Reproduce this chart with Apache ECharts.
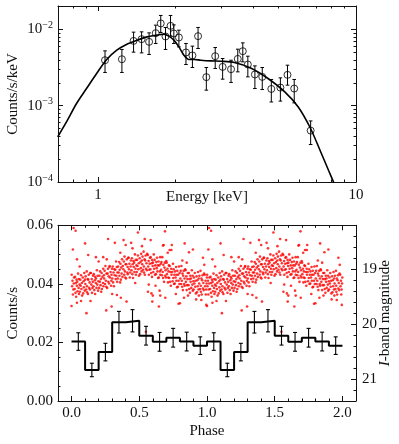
<!DOCTYPE html>
<html>
<head>
<meta charset="utf-8">
<script src="https://cdn.jsdelivr.net/npm/echarts@6/dist/echarts.min.js"></script>
<style>html,body{margin:0;padding:0;background:#fff}#chart{width:399px;height:444px}</style>
</head>
<body>
<div id="chart"></div>
<script>
// X-ray spectrum (top panel)
var spectrumEnergy = [1.065,1.238,1.374,1.476,1.578,1.674,1.751,1.827,1.911,1.968,2.059,2.193,2.323,2.443,2.630,2.847,3.042,3.279,3.482,3.641,3.809,4.057,4.332,4.697,5.093,5.426,5.762,6.672];
var spectrumRate = [0.00395,0.00407,0.00708,0.00746,0.00688,0.00894,0.01199,0.00809,0.01115,0.00886,0.00785,0.00499,0.00456,0.00817,0.00237,0.00446,0.00323,0.00301,0.00411,0.00519,0.00347,0.00257,0.00239,0.00166,0.00173,0.00254,0.00168,0.000472];
var spectrumLo = [0.00273,0.00273,0.00504,0.00493,0.00470,0.00655,0.00913,0.00547,0.00817,0.00655,0.00591,0.00347,0.00317,0.00563,0.00160,0.00308,0.00223,0.00202,0.00278,0.00376,0.00239,0.00168,0.00163,0.00112,0.00115,0.00186,0.00109,0.000310];
var spectrumHi = [0.00524,0.00547,0.00922,0.00930,0.00902,0.01139,0.01526,0.01062,0.01526,0.01149,0.00979,0.00655,0.00604,0.01062,0.00317,0.00580,0.00416,0.00395,0.00551,0.00667,0.00446,0.00333,0.00317,0.00221,0.00232,0.00340,0.00221,0.000632];

var modelEnergy = [0.698,0.755,0.826,0.903,0.988,1.081,1.183,1.294,1.416,1.550,1.695,1.799,1.882,1.969,2.059,2.154,2.253,2.356,2.502,2.738,2.996,3.377,3.924,4.560,5.296,5.973,6.631,7.253,7.824,8.183,8.35];
var modelRate = [0.000390,0.000613,0.001069,0.001681,0.002646,0.004040,0.005351,0.006413,0.007238,0.007996,0.008418,0.008677,0.008166,0.007238,0.005910,0.004600,0.004040,0.004040,0.003954,0.003872,0.003837,0.003689,0.003105,0.002275,0.001518,0.000964,0.000522,0.000261,0.0001424,0.0001,0.0000826];

// folded X-ray light curve, one cycle (bins of 0.1 in phase)
var binCounts = [0.0203,0.0106,0.0167,0.0269,0.0274,0.0223,0.0202,0.0216,0.0203,0.0189];
var binErr = [0.0030,0.0023,0.0030,0.0037,0.0038,0.0032,0.0032,0.0032,0.0032,0.0030];

// folded I-band photometry, one cycle: [phase, magnitude]
var opticalPoints = [
[0.001,19.10],[0.004,19.31],[0.007,19.21],[0.010,19.46],[0.013,19.37],[0.016,19.26],[0.018,19.15],
[0.023,19.36],[0.026,19.14],[0.029,19.43],[0.031,19.25],[0.034,19.50],[0.037,19.19],[0.039,19.30],
[0.042,19.23],[0.044,19.40],[0.048,19.08],[0.052,19.34],[0.054,19.18],[0.055,19.45],[0.059,19.28],
[0.061,19.41],[0.064,19.19],[0.067,19.30],[0.070,19.11],[0.073,19.36],[0.076,19.25],[0.078,19.48],
[0.083,19.15],[0.086,19.44],[0.089,19.22],[0.091,19.33],[0.094,19.07],[0.097,19.39],[0.099,19.19],
[0.102,19.27],[0.104,19.13],[0.108,19.37],[0.112,19.04],[0.114,19.31],[0.115,19.42],[0.119,19.18],
[0.121,19.45],[0.124,19.19],[0.127,19.10],[0.130,19.34],[0.133,19.24],[0.136,19.37],[0.138,19.07],
[0.143,19.07],[0.146,19.28],[0.149,19.18],[0.151,19.43],[0.154,19.34],[0.157,19.23],[0.159,19.12],
[0.162,19.31],[0.164,19.09],[0.168,19.38],[0.172,19.20],[0.174,19.45],[0.175,19.14],[0.179,19.25],
[0.181,19.17],[0.184,19.34],[0.187,19.02],[0.190,19.28],[0.193,19.12],[0.196,19.39],[0.198,19.22],
[0.203,19.34],[0.206,19.12],[0.209,19.23],[0.211,19.04],[0.214,19.29],[0.217,19.18],[0.219,19.41],
[0.222,19.07],[0.224,19.36],[0.228,19.14],[0.232,19.25],[0.234,18.99],[0.235,19.31],[0.239,19.11],
[0.241,19.17],[0.244,19.03],[0.247,19.27],[0.250,18.94],[0.253,19.21],[0.256,19.32],[0.258,19.08],
[0.263,19.34],[0.266,19.08],[0.269,18.99],[0.271,19.23],[0.274,19.13],[0.277,19.26],[0.279,18.96],
[0.282,18.94],[0.284,19.15],[0.288,19.05],[0.292,19.30],[0.294,19.21],[0.295,19.10],[0.299,18.99],
[0.301,19.17],[0.304,18.95],[0.307,19.24],[0.310,19.06],[0.313,19.31],[0.316,19.00],[0.318,19.11],
[0.323,19.01],[0.326,19.18],[0.329,18.86],[0.331,19.12],[0.334,18.96],[0.337,19.23],[0.339,19.06],
[0.342,19.17],[0.344,18.95],[0.348,19.06],[0.352,18.87],[0.354,19.12],[0.355,19.01],[0.359,19.24],
[0.361,18.90],[0.364,19.19],[0.367,18.97],[0.370,19.08],[0.373,18.82],[0.376,19.14],[0.378,18.94],
[0.383,19.00],[0.386,18.86],[0.389,19.10],[0.391,18.77],[0.394,19.04],[0.397,19.15],[0.399,18.91],
[0.402,19.17],[0.404,18.91],[0.408,18.82],[0.412,19.06],[0.414,18.96],[0.415,19.09],[0.419,18.79],
[0.421,18.79],[0.424,19.00],[0.427,18.90],[0.430,19.15],[0.433,19.06],[0.436,18.95],[0.438,18.84],
[0.443,19.02],[0.446,18.80],[0.449,19.09],[0.451,18.91],[0.454,19.16],[0.457,18.85],[0.459,18.96],
[0.462,18.88],[0.464,19.05],[0.468,18.73],[0.472,18.99],[0.474,18.83],[0.475,19.10],[0.479,18.93],
[0.481,19.05],[0.484,18.83],[0.487,18.94],[0.490,18.75],[0.493,19.00],[0.496,18.89],[0.498,19.12],
[0.503,18.80],[0.506,19.09],[0.509,18.87],[0.511,18.98],[0.514,18.72],[0.517,19.04],[0.519,18.84],
[0.522,18.91],[0.524,18.77],[0.528,19.01],[0.532,18.68],[0.534,18.95],[0.535,19.06],[0.539,18.82],
[0.541,19.10],[0.544,18.84],[0.547,18.75],[0.550,18.99],[0.553,18.89],[0.556,19.02],[0.558,18.72],
[0.563,18.74],[0.566,18.95],[0.569,18.85],[0.571,19.10],[0.574,19.01],[0.577,18.90],[0.579,18.79],
[0.582,19.00],[0.584,18.78],[0.588,19.07],[0.592,18.89],[0.594,19.14],[0.595,18.83],[0.599,18.94],
[0.601,18.88],[0.604,19.05],[0.607,18.73],[0.610,18.99],[0.613,18.83],[0.616,19.10],[0.618,18.93],
[0.623,19.09],[0.626,18.87],[0.629,18.98],[0.631,18.79],[0.634,19.04],[0.637,18.93],[0.639,19.16],
[0.642,18.86],[0.644,19.15],[0.648,18.93],[0.652,19.04],[0.654,18.78],[0.655,19.10],[0.659,18.90],
[0.661,19.01],[0.664,18.87],[0.667,19.11],[0.670,18.78],[0.673,19.05],[0.676,19.16],[0.678,18.92],
[0.683,19.23],[0.686,18.97],[0.689,18.88],[0.691,19.12],[0.694,19.02],[0.697,19.15],[0.699,18.85],
[0.702,18.88],[0.704,19.09],[0.708,18.99],[0.712,19.24],[0.714,19.15],[0.715,19.04],[0.719,18.93],
[0.721,19.16],[0.724,18.94],[0.727,19.23],[0.730,19.05],[0.733,19.30],[0.736,18.99],[0.738,19.10],
[0.743,19.05],[0.746,19.22],[0.749,18.90],[0.751,19.16],[0.754,19.00],[0.757,19.27],[0.759,19.10],
[0.762,19.26],[0.764,19.04],[0.768,19.15],[0.772,18.96],[0.774,19.21],[0.775,19.10],[0.779,19.33],
[0.781,19.03],[0.784,19.32],[0.787,19.10],[0.790,19.21],[0.793,18.95],[0.796,19.27],[0.798,19.07],
[0.803,19.17],[0.806,19.03],[0.809,19.27],[0.811,18.94],[0.814,19.21],[0.817,19.32],[0.819,19.08],
[0.822,19.38],[0.824,19.12],[0.828,19.03],[0.832,19.27],[0.834,19.17],[0.835,19.30],[0.839,19.00],
[0.841,19.02],[0.844,19.23],[0.847,19.13],[0.850,19.38],[0.853,19.29],[0.856,19.18],[0.858,19.07],
[0.863,19.29],[0.866,19.07],[0.869,19.36],[0.871,19.18],[0.874,19.43],[0.877,19.12],[0.879,19.23],
[0.882,19.17],[0.884,19.34],[0.888,19.02],[0.892,19.28],[0.894,19.12],[0.895,19.39],[0.899,19.22],
[0.901,19.37],[0.904,19.15],[0.907,19.26],[0.910,19.07],[0.913,19.32],[0.916,19.21],[0.918,19.44],
[0.923,19.13],[0.926,19.42],[0.929,19.20],[0.931,19.31],[0.934,19.05],[0.937,19.37],[0.939,19.17],
[0.942,19.26],[0.944,19.12],[0.948,19.36],[0.952,19.03],[0.954,19.30],[0.955,19.41],[0.959,19.17],
[0.961,19.46],[0.964,19.20],[0.967,19.11],[0.970,19.35],[0.973,19.25],[0.976,19.38],[0.978,19.08],
[0.983,19.10],[0.986,19.31],[0.989,19.21],[0.991,19.46],[0.994,19.37],[0.997,19.26],[0.999,19.15],
[0.015,18.25],[0.030,18.30],[0.010,18.64],[0.100,18.53],[0.040,18.82],[0.000,19.67],[0.040,19.61],
[0.110,19.80],[0.256,19.75],[0.270,18.45],[0.320,18.52],[0.335,19.47],[0.384,18.47],[0.400,18.56],
[0.440,18.52],[0.490,18.33],[0.540,18.45],[0.549,20.14],[0.590,19.44],[0.596,19.59],[0.645,19.68],
[0.650,19.39],[0.690,18.31],[0.724,18.65],[0.740,18.56],[0.680,18.56],[0.800,19.62],[0.835,18.53],
[0.818,18.84],[0.896,18.64],[0.123,18.74],[0.180,18.78],[0.234,18.78],[0.296,19.68],[0.364,19.52],
[0.406,19.59],[0.584,18.47],[0.675,18.57],[0.737,18.65],[0.867,18.69],[0.970,18.79],[0.564,19.41],
[0.600,19.48],[0.655,19.48],[0.692,19.52],[0.790,19.63],[0.860,19.48],[0.958,19.56],[0.995,19.65],
[0.940,19.48],[0.060,18.95],[0.140,19.58],[0.200,18.86],[0.300,19.45],[0.360,18.70],[0.470,19.25],
[0.520,18.58],[0.620,19.30],[0.710,18.70],[0.770,19.45],[0.850,18.88],[0.920,19.55],[0.980,18.92],
[0.260,18.82],[0.450,18.62],[0.570,19.28],[0.830,19.52],[0.070,19.58]
];

// tick positions
var energyMajor = [1, 10];
var energyMinor = [0.7, 0.8, 0.9, 2, 3, 4, 5, 6, 7, 8, 9];
var rateMajor = [0.0001, 0.001, 0.01];
var rateMinor = [0.0002,0.0003,0.0004,0.0005,0.0006,0.0007,0.0008,0.0009,0.002,0.003,0.004,0.005,0.006,0.007,0.008,0.009,0.02];
var phaseMajor = [0, 0.5, 1, 1.5, 2];
var phaseMinor = [0.1,0.2,0.3,0.4,0.6,0.7,0.8,0.9,1.1,1.2,1.3,1.4,1.6,1.7,1.8,1.9];
var countMajor = [0, 0.02, 0.04, 0.06];
var countMinor = [0.005,0.01,0.015,0.025,0.03,0.035,0.045,0.05,0.055];
var magMajor = [19, 20, 21];
var magMinor = [18.4,18.6,18.8,19.2,19.4,19.6,19.8,20.2,20.4,20.6,20.8,21.2];

var FONT = 'Liberation Serif';
var INK = '#111';
var MAJOR = 5, MINOR = 2.5;

function tickAxis(o) {
    var a = {
        type: o.type, gridIndex: o.grid, position: o.position,
        min: o.min, max: o.max, inverse: !!o.inverse,
        axisLine: {show: !!o.line, onZero: false, lineStyle: {color: INK, width: 1}},
        axisTick: {show: true, inside: true, length: o.len, customValues: o.ticks, lineStyle: {color: INK, width: 1}},
        axisLabel: {show: false},
        splitLine: {show: false}
    };
    if (o.type == 'log') a.logBase = 10;
    if (o.format) {
        a.axisLabel = {
            show: true, customValues: o.ticks, formatter: o.format, margin: o.margin,
            fontFamily: FONT, fontSize: 15, color: INK,
            rich: {
                b: {fontFamily: FONT, fontSize: 15, color: INK, lineHeight: 18},
                s: {fontFamily: FONT, fontSize: 10, color: INK, verticalAlign: 'top', lineHeight: 10}
            }
        };
    }
    if (o.name) {
        a.name = o.name;
        a.nameLocation = 'middle';
        a.nameGap = o.gap;
        a.nameMoveOverlap = false;
        if (o.rotate != null) a.nameRotate = o.rotate;
        a.nameTextStyle = {fontFamily: FONT, fontSize: 15, color: INK,
            rich: {i: {fontFamily: FONT, fontSize: 15, color: INK, fontStyle: 'italic'}}};
    }
    return a;
}

function fmtPow(v) {
    var e = Math.round(Math.log(v) / Math.LN10);
    return '{b|10}{s|\u2212' + (-e) + '}';
}
function fmtEnergy(v) { return String(Math.round(v)); }
function fmtPhase(v) { return v.toFixed(1); }
function fmtCount(v) { return v.toFixed(2); }
function fmtMag(v) { return String(Math.round(v)); }

var xAxes = [
    // top panel: energy
    tickAxis({type: 'log', grid: 0, position: 'bottom', min: 0.7, max: 10, len: MAJOR, ticks: energyMajor, line: true,
        format: fmtEnergy, margin: 6, name: 'Energy [keV]', gap: 8}),
    tickAxis({type: 'log', grid: 0, position: 'bottom', min: 0.7, max: 10, len: MINOR, ticks: energyMinor}),
    tickAxis({type: 'log', grid: 0, position: 'top', min: 0.7, max: 10, len: MAJOR, ticks: energyMajor, line: true}),
    tickAxis({type: 'log', grid: 0, position: 'top', min: 0.7, max: 10, len: MINOR, ticks: energyMinor}),
    // bottom panel: phase
    tickAxis({type: 'value', grid: 1, position: 'bottom', min: -0.1, max: 2.1, len: MAJOR, ticks: phaseMajor, line: true,
        format: fmtPhase, margin: 5, name: 'Phase', gap: 23}),
    tickAxis({type: 'value', grid: 1, position: 'bottom', min: -0.1, max: 2.1, len: MINOR, ticks: phaseMinor}),
    tickAxis({type: 'value', grid: 1, position: 'top', min: -0.1, max: 2.1, len: MAJOR, ticks: phaseMajor, line: true}),
    tickAxis({type: 'value', grid: 1, position: 'top', min: -0.1, max: 2.1, len: MINOR, ticks: phaseMinor})
];

var yAxes = [
    tickAxis({type: 'log', grid: 0, position: 'left', min: 0.0001, max: 0.0203, len: MAJOR, ticks: rateMajor, line: true,
        format: fmtPow, margin: 5, name: 'Counts/s/keV', gap: 37, rotate: 90}),
    tickAxis({type: 'log', grid: 0, position: 'left', min: 0.0001, max: 0.0203, len: MINOR, ticks: rateMinor}),
    tickAxis({type: 'log', grid: 0, position: 'right', min: 0.0001, max: 0.0203, len: MAJOR, ticks: rateMajor, line: true}),
    tickAxis({type: 'log', grid: 0, position: 'right', min: 0.0001, max: 0.0203, len: MINOR, ticks: rateMinor}),
    tickAxis({type: 'value', grid: 1, position: 'left', min: 0, max: 0.06, len: MAJOR, ticks: countMajor, line: true,
        format: fmtCount, margin: 5, name: 'Counts/s', gap: 37, rotate: 90}),
    tickAxis({type: 'value', grid: 1, position: 'left', min: 0, max: 0.06, len: MINOR, ticks: countMinor}),
    tickAxis({type: 'value', grid: 1, position: 'right', min: 18.2, max: 21.4, inverse: true, len: MAJOR, ticks: magMajor, line: true,
        format: fmtMag, margin: 6, name: '{i|I}-band magnitude', gap: 22, rotate: 90}),
    tickAxis({type: 'value', grid: 1, position: 'right', min: 18.2, max: 21.4, inverse: true, len: MINOR, ticks: magMinor})
];

function errorBar(capW, lineW) {
    return function (params, api) {
        var x = api.value(0);
        var lo = api.coord([x, api.value(1)]);
        var hi = api.coord([x, api.value(2)]);
        var st = {stroke: '#000', lineWidth: lineW};
        return {type: 'group', children: [
            {type: 'line', shape: {x1: lo[0], y1: lo[1], x2: hi[0], y2: hi[1]}, style: st},
            {type: 'line', shape: {x1: lo[0] - capW, y1: lo[1], x2: lo[0] + capW, y2: lo[1]}, style: st},
            {type: 'line', shape: {x1: hi[0] - capW, y1: hi[1], x2: hi[0] + capW, y2: hi[1]}, style: st}
        ]};
    };
}

var specPts = [], specBars = [], modelPts = [];
for (var i = 0; i < spectrumEnergy.length; i++) {
    specPts.push([spectrumEnergy[i], spectrumRate[i]]);
    specBars.push([spectrumEnergy[i], spectrumLo[i], spectrumHi[i]]);
}
for (var i = 0; i < modelEnergy.length; i++) modelPts.push([modelEnergy[i], modelRate[i]]);

// two cycles are shown
var histPts = [], histBars = [], optPts = [];
for (var c = 0; c < 2; c++) {
    for (var i = 0; i < binCounts.length; i++) {
        var lo = c + i / 10, hi = c + (i + 1) / 10;
        histPts.push([lo, binCounts[i]], [hi, binCounts[i]]);
        histBars.push([(lo + hi) / 2, binCounts[i] - binErr[i], binCounts[i] + binErr[i]]);
    }
    for (var i = 0; i < opticalPoints.length; i++) optPts.push([opticalPoints[i][0] + c, opticalPoints[i][1]]);
}

var chart = echarts.init(document.getElementById('chart'));
chart.setOption({
    animation: false,
    backgroundColor: '#fff',
    grid: [
        {left: 58, right: 43, top: 6, height: 176, containLabel: false, outerBoundsMode: 'none'},
        {left: 58, right: 43, top: 225.3, height: 175.7, containLabel: false, outerBoundsMode: 'none'}
    ],
    xAxis: xAxes,
    yAxis: yAxes,
    series: [
        {type: 'custom', xAxisIndex: 0, yAxisIndex: 0, data: specBars, encode: {x: 0, y: [1, 2]},
            renderItem: errorBar(1.8, 1), z: 3},
        {type: 'scatter', xAxisIndex: 0, yAxisIndex: 0, data: specPts, symbol: 'circle', symbolSize: 7,
            itemStyle: {color: 'rgba(0,0,0,0)', borderColor: '#000', borderWidth: 1}, z: 4},
        {type: 'line', xAxisIndex: 0, yAxisIndex: 0, data: modelPts, showSymbol: false, smooth: 0.3,
            lineStyle: {color: '#000', width: 1.6}, z: 5},
        {type: 'scatter', xAxisIndex: 4, yAxisIndex: 6, data: optPts, symbol: 'circle', symbolSize: 2.6,
            itemStyle: {color: '#ff0000'}, z: 2},
        {type: 'line', xAxisIndex: 4, yAxisIndex: 4, data: histPts, showSymbol: false,
            lineStyle: {color: '#000', width: 2}, z: 4},
        {type: 'custom', xAxisIndex: 4, yAxisIndex: 4, data: histBars, encode: {x: 0, y: [1, 2]},
            renderItem: errorBar(2, 1.1), z: 5}
    ]
});
</script>
</body>
</html>
